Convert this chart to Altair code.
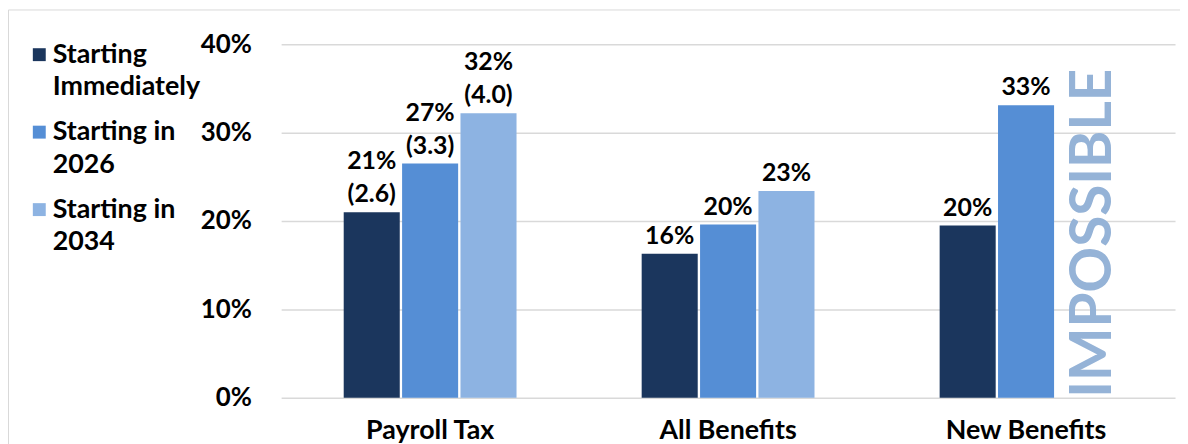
import altair as alt
import pandas as pd

categories = ["Payroll Tax", "All Benefits", "New Benefits"]
series = ["Starting Immediately", "Starting in 2026", "Starting in 2034"]
payroll_tax = [21.0, 26.5, 32.2]
all_benefits = [16.3, 19.6, 23.4]
new_benefits = [19.5, 33.1, None]
payroll_labels = ["21%", "27%", "32%"]
all_labels = ["16%", "20%", "23%"]
new_labels = ["20%", "33%", ""]
payroll_sub = ["(2.6)", "(3.3)", "(4.0)"]
all_sub = ["", "", ""]
new_sub = ["", "", ""]
note_category = ["New Benefits"]
note_series = ["Starting in 2034"]
note_text = ["IMPOSSIBLE"]
y_ticks = [0, 10, 20, 30, 40]
colors = ["#1B365D", "#558ED5", "#8DB3E2"]

rows = []
for cat, vals, labs, subs in zip(categories, [payroll_tax, all_benefits, new_benefits],
                                 [payroll_labels, all_labels, new_labels],
                                 [payroll_sub, all_sub, new_sub]):
    for s, v, l, sb in zip(series, vals, labs, subs):
        rows.append({"category": cat, "series": s, "value": v, "label": l, "sub": sb})
df = pd.DataFrame(rows)
note_df = pd.DataFrame({"category": note_category, "series": note_series, "text": note_text})

FONT = "Lato"
LABEL_FS = 25

x_enc = alt.X("category:N", sort=categories,
              scale=alt.Scale(domain=categories, paddingInner=0.42, paddingOuter=0.21),
              axis=alt.Axis(title=None, domain=False, ticks=False, labelAngle=0,
                            labelPadding=20, labelFontSize=27, labelFontWeight="bold",
                            labelColor="black", labelFont=FONT))
xo_enc = alt.XOffset("series:N", sort=series,
                     scale=alt.Scale(domain=series, paddingInner=0.04))
y_enc = alt.Y("value:Q",
              scale=alt.Scale(domain=[0, 40], nice=False),
              axis=alt.Axis(title=None, values=y_ticks, labelExpr="datum.value + '%'",
                            domain=False, ticks=False, labelPadding=30,
                            labelFontSize=26, labelFontWeight="bold", labelColor="black",
                            labelFont=FONT, gridColor="#d9d9d9", gridWidth=1.5))

legend_label_expr = ("datum.label == 'Starting Immediately' ? ['Starting', 'Immediately'] : "
                     "[substring(datum.label, 0, 11), substring(datum.label, 12)]")

bars = alt.Chart(df).mark_bar().encode(
    x=x_enc,
    xOffset=xo_enc,
    y=y_enc,
    color=alt.Color("series:N", sort=series,
                    scale=alt.Scale(domain=series, range=colors),
                    legend=alt.Legend(title=None, orient="none", legendX=-257, legendY=-3,
                                      labelFontSize=27, labelFontWeight="bold",
                                      labelColor="black", labelFont=FONT, labelLimit=300,
                                      labelOffset=0, symbolType="square", symbolSize=169,
                                      symbolStrokeWidth=0, symbolOpacity=1, rowPadding=17,
                                      labelExpr=legend_label_expr, labelBaseline="middle",
                                      padding=0)),
)

text_common = dict(baseline="bottom", fontSize=LABEL_FS, fontWeight="bold",
                   font=FONT, color="black")

sub_labels = alt.Chart(df).mark_text(dy=-5, **text_common).encode(
    x=alt.X("category:N", sort=categories),
    xOffset=alt.XOffset("series:N", sort=series),
    y=alt.Y("value:Q"),
    text="sub:N",
).transform_filter("datum.sub != ''")

main_labels_single = alt.Chart(df).mark_text(dy=-5, **text_common).encode(
    x=alt.X("category:N", sort=categories),
    xOffset=alt.XOffset("series:N", sort=series),
    y=alt.Y("value:Q"),
    text="label:N",
).transform_filter("datum.sub == ''")

main_labels_double = alt.Chart(df).mark_text(dy=-38, **text_common).encode(
    x=alt.X("category:N", sort=categories),
    xOffset=alt.XOffset("series:N", sort=series),
    y=alt.Y("value:Q"),
    text="label:N",
).transform_filter("datum.sub != ''")

note = alt.Chart(note_df).mark_text(angle=270, align="left", baseline="middle",
                                    fontSize=57, fontWeight="bold", font=FONT, dy=10,
                                    color="#95B3D7").encode(
    x=alt.X("category:N", sort=categories),
    xOffset=alt.XOffset("series:N", sort=series),
    y=alt.datum(0),
    text="text:N",
)

one = pd.DataFrame({"a": [0]})
frame_left = alt.Chart(one).mark_rule(color="#d9d9d9", strokeWidth=1).encode(
    x=alt.value(-274.5), y=alt.value(-34.5), y2=alt.value(500))
frame_top = alt.Chart(one).mark_rule(color="#d9d9d9", strokeWidth=1).encode(
    x=alt.value(-274.5), x2=alt.value(1000), y=alt.value(-34.5))

chart = alt.layer(frame_left, frame_top, bars, sub_labels, main_labels_single,
                  main_labels_double, note).properties(
    width=900, height=356,
    autosize=alt.AutoSizeParams(type="none"),
    padding={"left": 275, "top": 35, "right": 5, "bottom": 45},
    background="white",
).configure(
    font=FONT,
    view=alt.ViewConfig(stroke=None),
    style={"guide-label": {"lineHeight": 33}},
)

chart.save("out.html", embed_options={"renderer": "svg", "actions": False})
